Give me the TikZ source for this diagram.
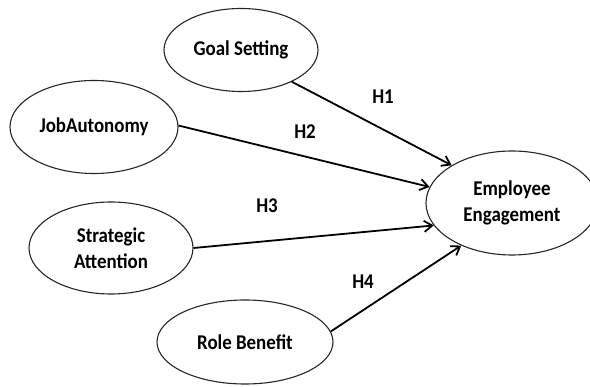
\documentclass[tikz,border=0pt]{standalone}
\usepackage{fontspec}
\setmainfont{Carlito}[FakeStretch=0.9]
\usetikzlibrary{shapes.geometric,arrows.meta}
\begin{document}
\begin{tikzpicture}[x=1pt,y=-1pt,
 var/.style={ellipse,draw=black!85,line width=1.1pt,inner sep=0pt,
   font=\fontsize{21}{26}\selectfont\bfseries,align=center},
 link/.style={line width=1.8pt,-{Straight Barb[length=8pt,width=11pt]}},
 lab/.style={font=\fontsize{21}{26}\selectfont\bfseries}]
\useasboundingbox (0,0) rectangle (590,387);
\node[var,minimum width=154pt,minimum height=83pt] (gs) at (241,50) {Goal Setting};
\node[var,minimum width=168pt,minimum height=93pt] (ja) at (94,127) {JobAutonomy};
\node[var,minimum width=164pt,minimum height=92pt] (sa) at (111,248) {Strategic\\Attention};
\node[var,minimum width=176pt,minimum height=84pt] (rb) at (245,342) {Role Benefit};
\node[var,minimum width=172pt,minimum height=104pt] (ee) at (512,203) {Employee\\Engagement};
\draw[link] (gs.-32) -- (ee.148);
\draw[link] (ja.1) -- (ee.169);
\draw[link] (sa.0) -- (ee.196);
\draw[link] (rb.7) -- (ee.220);
\node[lab] (h1) at (383,97) {H1};
\node[lab] (h2) at (305,132) {H2};
\node[lab] (h3) at (267,206) {H3};
\node[lab] (h4) at (363,282) {H4};
\end{tikzpicture}
\end{document}
